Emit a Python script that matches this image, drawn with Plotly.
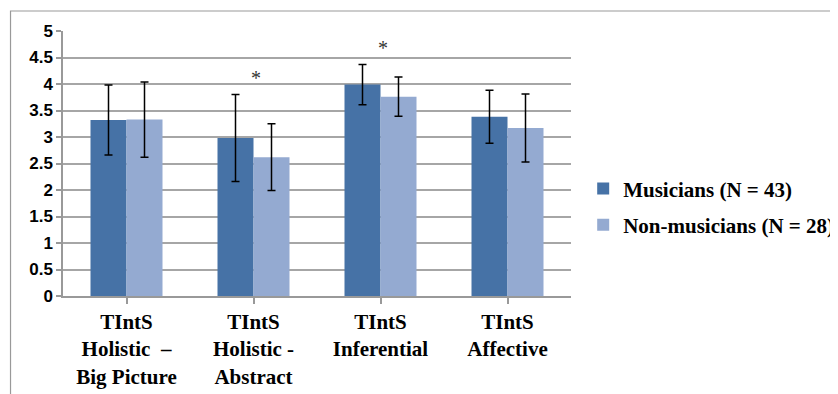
import plotly.graph_objects as go

categories = ["TIntS<br>Holistic  –<br>Big Picture", "TIntS<br>Holistic -<br>Abstract",
              "TIntS<br>Inferential", "TIntS<br>Affective"]
musicians = [3.32, 2.98, 3.99, 3.38]
musicians_err = [0.66, 0.82, 0.38, 0.50]
nonmusicians = [3.33, 2.62, 3.76, 3.17]
nonmusicians_err = [0.71, 0.63, 0.37, 0.64]
y_ticks = [0, 0.5, 1, 1.5, 2, 2.5, 3, 3.5, 4, 4.5, 5]
y_tick_labels = ["0", "0.5", "1", "1.5", "2", "2.5", "3", "3.5", "4", "4.5", "5"]
sig_categories = [1, 2]
sig_heights = [4.11, 4.68]

legend_font = dict(family="Liberation Serif", size=21, color="black", weight="bold")

fig = go.Figure()
fig.add_trace(go.Bar(
    x=list(range(len(categories))), y=musicians, name="Musicians (N = 43)",
    marker=dict(color="#4672A6", line=dict(width=0)),
    error_y=dict(type="data", array=musicians_err, color="black", thickness=1.5, width=4),
    legend="legend",
))
fig.add_trace(go.Bar(
    x=list(range(len(categories))), y=nonmusicians, name="Non-musicians (N = 28)",
    marker=dict(color="#94AAD1", line=dict(width=0)),
    error_y=dict(type="data", array=nonmusicians_err, color="black", thickness=1.5, width=4),
    legend="legend2",
))

for c, h in zip(sig_categories, sig_heights):
    fig.add_annotation(x=c, y=h, text="*", showarrow=False, xref="x", yref="y",
                       font=dict(family="Liberation Serif", size=20, color="#333333"),
                       yanchor="middle", xshift=2)

fig.add_shape(type="rect", xref="paper", yref="paper", x0=-0.1033, x1=1.6, y0=-0.5, y1=1.0755,
              line=dict(color="#999999", width=1.2), fillcolor="rgba(0,0,0,0)", layer="below")

# page body has an 8px margin, so the figure is drawn 8px in from the window's corner
fig.update_layout(
    width=830, height=386,
    margin=dict(l=55, r=267, t=23, b=98, autoexpand=False),
    paper_bgcolor="white", plot_bgcolor="white",
    barmode="group", bargap=0.433, bargroupgap=0,
    showlegend=True,
    legend=dict(x=1.024, y=0.404, xanchor="left", yanchor="middle",
                font=legend_font, bgcolor="rgba(0,0,0,0)", itemwidth=30),
    legend2=dict(x=1.024, y=0.268, xanchor="left", yanchor="middle",
                 font=legend_font, bgcolor="rgba(0,0,0,0)", itemwidth=30),
    xaxis=dict(
        tickmode="array", tickvals=list(range(len(categories))), ticktext=categories,
        range=[-0.5, len(categories) - 0.5], automargin=False,
        showline=True, linecolor="#999999", linewidth=1.5,
        ticks="outside", tickson="boundaries", ticklen=6, tickcolor="#999999", tickwidth=1.5,
        showgrid=False, zeroline=False,
        tickfont=dict(family="Liberation Serif", size=21, color="black", weight="bold"),
    ),
    yaxis=dict(
        range=[0, 5], tickmode="array", tickvals=y_ticks, ticktext=y_tick_labels,
        showline=True, linecolor="#999999", linewidth=1.5, automargin=False,
        ticks="outside", ticklen=5, tickcolor="#999999", tickwidth=1.5,
        showgrid=True, gridcolor="#A6A6A6", gridwidth=1.5, zeroline=False,
        tickfont=dict(family="Liberation Sans", size=17, color="black", weight="bold"),
    ),
)
fig.write_html("out.html")
